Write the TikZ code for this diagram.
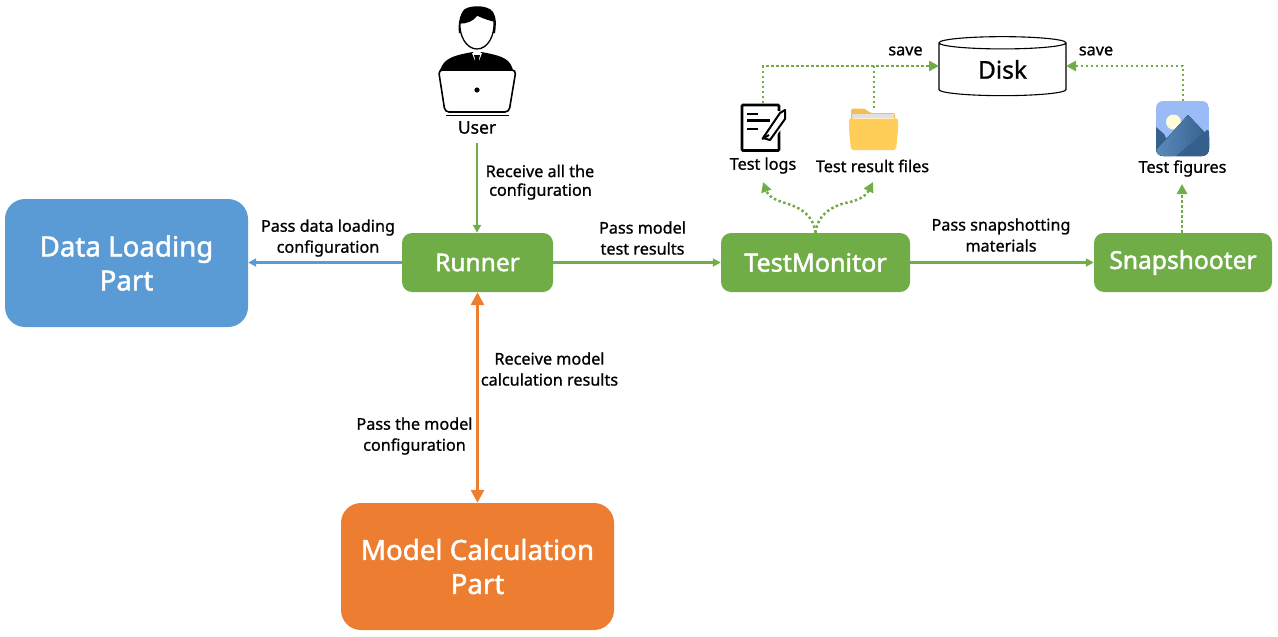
\documentclass[tikz,border=0pt]{standalone}
\usepackage{fontspec}
\setmainfont{Noto Sans}
\newfontfamily\medf[FakeBold=0.9]{Noto Sans}
\newfontfamily\boldf[FakeBold=1.7]{Noto Sans}
\usetikzlibrary{arrows.meta,shapes.geometric,calc}
\definecolor{gr}{HTML}{70AD47}
\definecolor{bl}{HTML}{5B9BD5}
\definecolor{og}{HTML}{ED7D31}
\definecolor{foldb}{HTML}{F5BE50}
\definecolor{foldf}{HTML}{FFCD58}
\definecolor{sky}{HTML}{9ABBF5}
\definecolor{mtl}{HTML}{5A8ABD}
\definecolor{mtd}{HTML}{35608C}
\tikzset{
  x=1pt,y=-1pt,
  boxb/.style={rounded corners=#1,text=white,font=\boldf\fontsize{27.7}{34}\selectfont,align=center,inner sep=0pt},
  lab/.style={font=\medf\fontsize{16.2}{21}\selectfont,align=center,inner sep=0pt,text=black},
  solidg/.style={draw=gr,line width=2.6pt,-{Triangle[length=8pt,width=8pt]}},
  dotg/.style={draw=gr,line width=2.5pt,line cap=butt,dash pattern=on 2.5pt off 2.5pt},
  dotarrow/.style={dotg,-{Triangle[length=10pt,width=10pt,fill=gr,sep=0pt]}},
}
\begin{document}
\begin{tikzpicture}
\useasboundingbox (0,0) rectangle (1278,637);
% boxes
\node[boxb=20pt,fill=bl,minimum width=243pt,minimum height=128pt] (data) at (126.5,263) {Data Loading\\Part};
\node[boxb=10pt,fill=gr,minimum width=151pt,minimum height=59pt] (runner) at (477.5,262.5) {\fontsize{24.5}{30}\selectfont Runner};
\node[boxb=10pt,fill=gr,minimum width=189pt,minimum height=59pt] (tm) at (815.5,262.5) {\fontsize{25.2}{30}\selectfont TestMonitor};
\node[boxb=10pt,fill=gr,minimum width=178pt,minimum height=59pt] (snap) at (1183,262.5) {\raisebox{-2pt}{\fontsize{24.6}{30}\selectfont Snapshooter}};
\node[boxb=20pt,fill=og,minimum width=273pt,minimum height=127pt] (model) at (477.5,566.5) {Model Calculation\\Part};
\node[cylinder,shape border rotate=90,draw=black,line width=1.1pt,fill=white,aspect=0.25,minimum width=127pt,minimum height=59pt,inner sep=0pt,font=\medf\fontsize{24.5}{30}\selectfont] (disk) at (1002.5,69.5) {Disk};
\coordinate (diskl) at (939,66);
\coordinate (diskr) at (1066,66);

% user icon
\begin{scope}
\fill[black] (463,11) .. controls (466,5) and (488,4) .. (493,12) .. controls (497,18) and (496,26) .. (495,33) -- (459,33) .. controls (458,26) and (459,17) .. (463,11) -- cycle;
\fill[white,draw=black,line width=1.3pt] (477,15) .. controls (486,19) and (490,20) .. (494,21) .. controls (495,35) and (488,49) .. (477,49) .. controls (466,49) and (459,35) .. (460,23) .. controls (466,23) and (473,21) .. (477,15) -- cycle;
\fill[black] (440,70) .. controls (444,60) and (449,56) .. (473,52) -- (477,62) -- (481,52) .. controls (505,56) and (510,60) .. (513,70) -- cycle;
\fill[white] (472,53) -- (477,66) -- (482,53) -- cycle;
\fill[black] (474,55) -- (480,55) -- (479,59) -- (481,70) -- (473,70) -- (475,59) -- cycle;
\draw[black,line width=1.6pt,fill=white,rounded corners=4pt] (438.5,70) -- (516,70) -- (509,112) -- (445,112) -- cycle;
\fill[black] (477,90) circle (2.6);
\draw[black,line width=1.5pt] (446,115.5) -- (509,115.5);
\end{scope}
\node[lab,font=\medf\fontsize{17.5}{20}\selectfont] (userl) at (477,127.5) {User};
\coordinate (userb) at (477,143);

% log icon
\draw[black,line width=2.6pt,rounded corners=1pt] (742,105) rectangle (779,150.5);
\draw[black,line width=2.2pt] (747,114) -- (758,114) (747,120.5) -- (770,120.5) (747,129) -- (758,129);
\fill[white] (761,141) -- (777,111) -- (787,112) -- (787,122) -- (768,146) -- cycle;
\draw[black,line width=2pt,line join=round,fill=white] (763,138) -- (780,113) -- (785,110) -- (785,119) -- (770,140) -- (763,138);
\draw[black,line width=2pt] (762,139) -- (769,135);
\coordinate (logt) at (763,103);

% folder icon
\fill[foldb, rounded corners=1.5pt] (851,108.5) -- (864,108.5) -- (871,113) -- (895,113) -- (895,125) -- (851,125) -- cycle;
\fill[black!12] (852,114) rectangle (894,118);
\fill[white] (853,118) rectangle (894,120);
\fill[foldf,rounded corners=2pt] (849,118.5) -- (898,118.5) -- (898,130) -- (896,150) -- (851,150) -- (849,130) -- cycle;
\coordinate (folt) at (874,108);

% figure icon
\begin{scope}
\clip[rounded corners=7pt] (1156,101) rectangle (1209,156);
\fill[sky] (1156,101) rectangle (1209,156);
\fill[yellow!15!white] (1173.5,122) circle (7.5);
\fill[mtd] (1156,127) -- (1164,134) -- (1172,150) -- (1172,156) -- (1156,156) -- cycle;
\fill[left color=mtl,right color=mtd] (1156,150) -- (1188,115) -- (1209,137) -- (1209,156) -- (1156,156) -- cycle;
\fill[mtd] (1176,156) -- (1207,130) -- (1209,131) -- (1209,156) -- cycle;
\end{scope}
\coordinate (figt) at (1183,101);

% labels
\node[lab,anchor=west] (l1) at (485.5,171) {Receive all the};
\node[lab,anchor=west] (l1b) at (489,191.5) {configuration};
\node[lab] (l2) at (328,238) {Pass data loading\\configuration};
\node[lab] (l3) at (642.5,238) {Pass model\\test results};
\node[lab] (l4) at (1001,235) {Pass snapshotting\\materials};
\node[lab] (l5) at (549.5,369) {Receive model\\calculation results};
\node[lab] (l6) at (414.5,436) {Pass the model\\configuration};
\node[lab] (l7) at (763,165.5) {Test logs};
\node[lab] (l8) at (872.5,166) {Test result files};
\node[lab] (l9) at (1182.5,168.5) {Test figures};
\node[lab] (s1) at (905.5,51) {save};
\node[lab] (s2) at (1096,51) {save};

% connectors
\draw[solidg] (userb) -- (runner.north -| userb);
\draw[draw=bl,line width=2.6pt,-{Triangle[length=8pt,width=8pt]}] (runner.west) -- (runner.west -| data.east);
\draw[solidg] (runner.east) -- (tm.west);
\draw[solidg] (tm.east) -- (snap.west);
\draw[draw=og,line width=3pt,{Triangle[length=13pt,width=13pt]}-{Triangle[length=13pt,width=13pt]}] (runner.south) -- (model.north);
% dotted
\coordinate (tmtop) at ($(tm.north)$);
\coordinate (logb) at (763,182);
\coordinate (folb) at (873,182);
\coordinate (snb) at (1182,184);
\draw[dotarrow] (tmtop) .. controls (813,212) and (795,206) .. (785,203) .. controls (775,200) and (768,196) .. (logb);
\draw[dotarrow] (tmtop) .. controls (818,212) and (835,206) .. (845,203) .. controls (858,201) and (866,196) .. (folb);
\draw[dotarrow] (snap.north -| snb) -- (snb);
\draw[dotarrow] (logt) -- (logt |- diskl) -- (diskl);
\draw[dotg] (folt) -- (folt |- diskl);
\draw[dotarrow] (figt) -- (figt |- diskr) -- (diskr);
\end{tikzpicture}
\end{document}
